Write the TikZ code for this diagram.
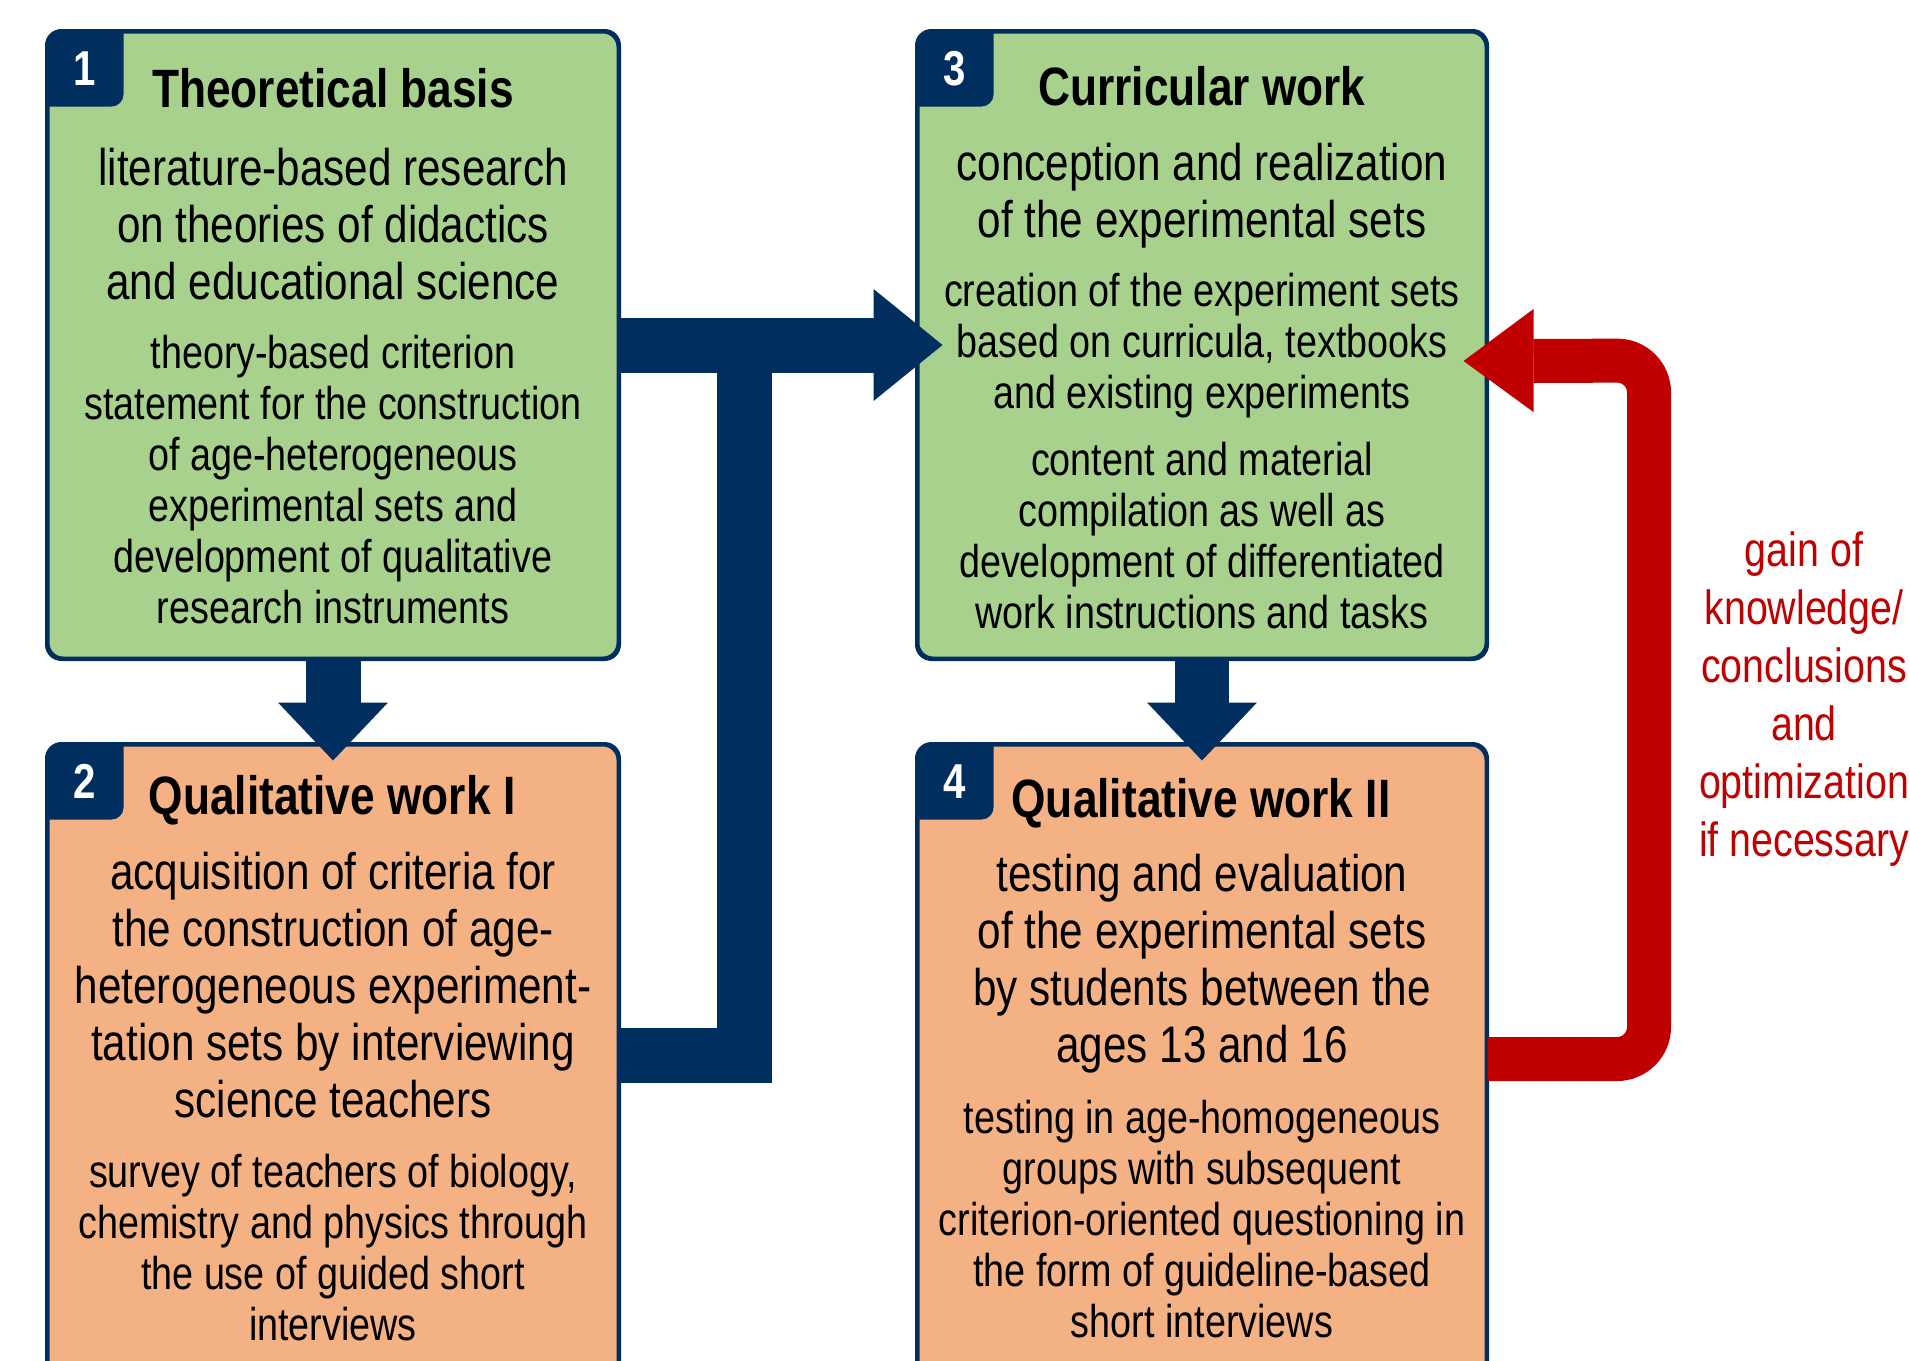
\documentclass[tikz,border=0pt]{standalone}
\usepackage{fontspec}
\setmainfont[FakeStretch=0.82]{Liberation Sans}
\usetikzlibrary{calc}
\definecolor{navy}{HTML}{002E5E}
\definecolor{boxgreen}{HTML}{A9D18E}
\definecolor{boxorange}{HTML}{F4B183}
\definecolor{fbred}{HTML}{C00000}
\tikzset{
  stagebox/.style={rectangle, draw=navy, line width=3pt, rounded corners=15pt, inner sep=0pt, minimum width=570pt},
  greenbox/.style={stagebox, fill=boxgreen},
  orangebox/.style={stagebox, fill=boxorange},
  titletxt/.style={anchor=base, inner sep=0pt, font=\bfseries\fontsize{54}{60}\selectfont},
  maintxt/.style={align=center, inner sep=0pt, font=\fontsize{51.5}{57}\selectfont},
  subtxt/.style={align=center, inner sep=0pt, font=\fontsize{46}{51}\selectfont},
  numtxt/.style={inner sep=0pt, text=white, font=\bfseries\fontsize{49}{49}\selectfont},
  redtxt/.style={align=center, inner sep=0pt, text=fbred, font=\fontsize{48}{58}\selectfont},
  navybar/.style={draw=navy, line width=55pt, line join=miter},
  redbar/.style={draw=fbred, line width=44pt, rounded corners=32pt},
}
\newcommand{\stagebadge}[2]{%
  \begin{scope}
    \clip[rounded corners=15pt] (#1.north west) rectangle (#1.south east);
    \fill[navy, rounded corners=12pt] ($(#1.north west)+(-20,-20)$) rectangle ($(#1.north west)+(77,76)$);
  \end{scope}
  \draw[navy, line width=3pt, rounded corners=15pt] (#1.north west) rectangle (#1.south east);
  \node[numtxt] (#1num) at ($(#1.north west)+(38,38)$) {#2};
}
\begin{document}
\begin{tikzpicture}[x=1pt,y=-1pt]
\useasboundingbox[fill=white] (0,0) rectangle (1910,1360);

% boxes
\node[greenbox, minimum height=626pt] (b1) at (333,345) {};
\node[greenbox, minimum width=568pt, minimum height=626pt] (b3) at (1202,345) {};
\node[orangebox, minimum height=635pt] (b2) at (333,1062.5) {};
\node[orangebox, minimum width=568pt, minimum height=635pt] (b4) at (1202,1062.5) {};

\stagebadge{b1}{1}
\stagebadge{b2}{2}
\stagebadge{b3}{3}
\stagebadge{b4}{4}

% titles
\node[titletxt] (t1) at (333,107) {Theoretical basis};
\node[titletxt] (t3) at (1202,105) {Curricular work};
\node[titletxt] (t2) at (332,814) {Qualitative work I};
\node[titletxt] (t4) at (1201,817) {Qualitative work II};

% box 1 texts
\node[maintxt] (m1) at (333,224) {literature-based research\\on theories of didactics\\and educational science};
\node[subtxt] (s1) at (333,480) {theory-based criterion\\statement for the construction\\of age-heterogeneous\\experimental sets and\\development of qualitative\\research instruments};

% box 3 texts
\node[maintxt] (m3) at (1202,196) {conception and realization\\of the experimental sets};
\node[subtxt] (s3a) at (1202,346) {creation of the experiment sets\\based on curricula, textbooks\\and existing experiments};
\node[subtxt] (s3b) at (1202,536) {content and material\\compilation as well as\\development of differentiated\\work instructions and tasks};

% box 2 texts
\node[maintxt] (m2) at (333,985) {acquisition of criteria for\\the construction of age-\\heterogeneous experiment-\\tation sets by interviewing\\science teachers};
\node[subtxt] (s2) at (333,1248) {survey of teachers of biology,\\chemistry and physics through\\the use of guided short\\interviews};

% box 4 texts
\node[maintxt] (m4) at (1202,964) {testing and evaluation\\of the experimental sets\\by students between the\\ages 13 and 16};
\node[subtxt] (s4) at (1202,1219.5) {testing in age-homogeneous\\groups with subsequent\\criterion-oriented questioning in\\the form of guideline-based\\short interviews};

% feedback label
\node[redtxt] (fb) at (1804,699) {gain of\\knowledge/\\conclusions\\and\\optimization\\if necessary};

% connectors: 1 -> 2 and 3 -> 4
\coordinate (tip2) at ($(b2.north)+(0,17)$);
\coordinate (tip4) at ($(b4.north)+(0,17)$);
\draw[navybar] (b1.south) -- ($(b1.south)+(0,46)$);
\fill[navy] ($(tip2)+(-55,-58)$) -- (tip2) -- ($(tip2)+(55,-58)$) -- cycle;
\draw[navy, line width=54pt] (b3.south) -- ($(b3.south)+(0,46)$);
\fill[navy] ($(tip4)+(-55,-58)$) -- (tip4) -- ($(tip4)+(55,-58)$) -- cycle;

% connectors: 1 and 2 -> 3
\coordinate (tip3) at ($(b3.west)+(26,0)$);
\coordinate (hb3) at ($(tip3)+(-69,0)$);
\coordinate (jn) at (744.5,345);
\coordinate (jd) at (744.5,1055.5);
\draw[navybar] (b1.east) -- (hb3);
\fill[navy] ($(hb3)+(0,-56)$) -- (tip3) -- ($(hb3)+(0,56)$) -- cycle;
\draw[navybar] (jn) -- (jd) -- (b2.east |- jd);

% feedback connector: 4 -> 3
\coordinate (tipr) at ($(b3.east)+(-24,16)$);
\coordinate (hbr) at ($(tipr)+(70,0)$);
\draw[redbar] (b4.east |- 0,1059) -- (1649,1059) -- (1649,360.5) -- (hbr);
\fill[fbred] ($(hbr)+(0,-52)$) -- (tipr) -- ($(hbr)+(0,51)$) -- cycle;
\end{tikzpicture}
\end{document}
